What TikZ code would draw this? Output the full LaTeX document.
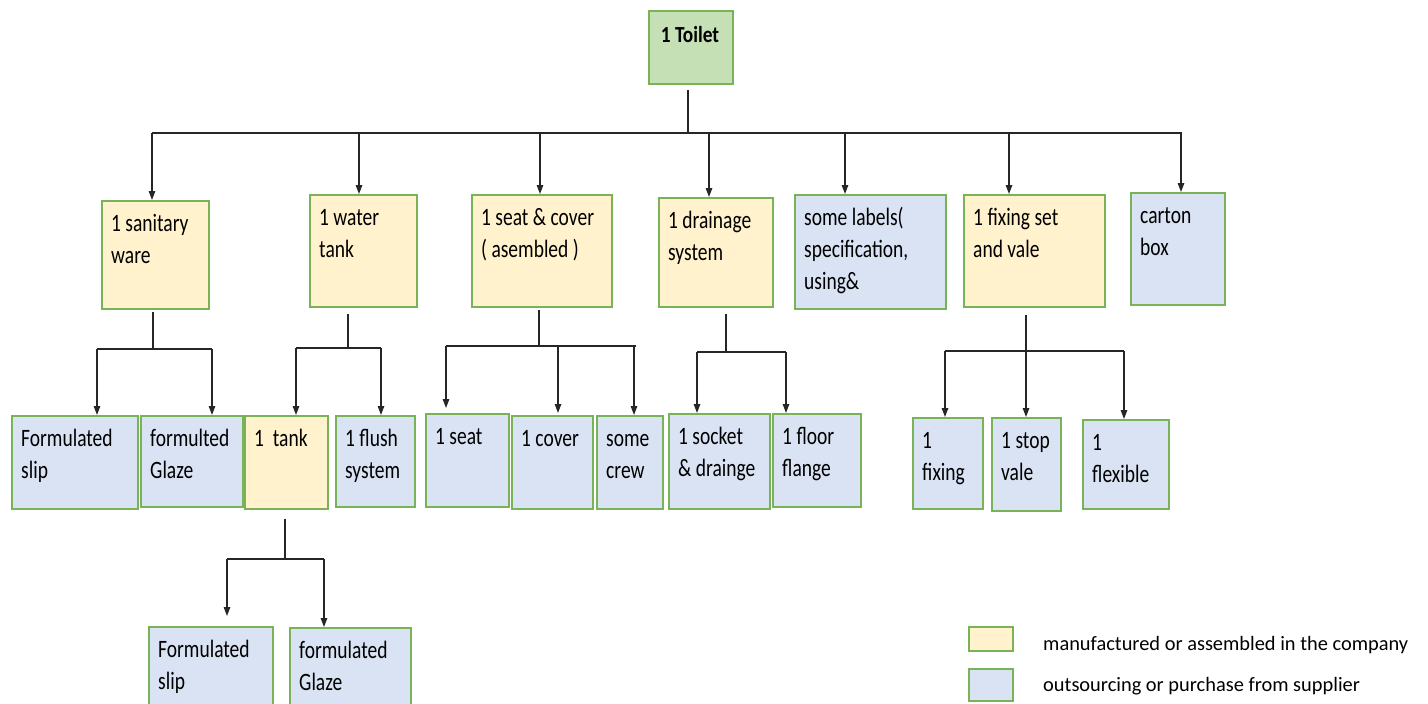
\documentclass[tikz,border=0pt]{standalone}
\usepackage{fontspec}
\setmainfont{Carlito}
\newfontfamily\boxfont{Carlito}[FakeStretch=0.78]
\newfontfamily\headfont{Carlito}[FakeStretch=0.84]
\usetikzlibrary{arrows.meta}

\definecolor{made}{HTML}{FFF2CC}
\definecolor{bought}{HTML}{DAE3F3}
\definecolor{topgreen}{HTML}{C5E0B4}
\definecolor{edge}{HTML}{78B457}

\tikzset{
  part/.style={draw=edge, line width=1.6pt, rectangle, inner sep=0pt, anchor=north west},
  madebox/.style={part, fill=made},
  boughtbox/.style={part, fill=bought},
  itemtext/.style={inner sep=0pt, anchor=base west, text=black,
    font=\boxfont\fontsize{25}{32}\selectfont},
  legendtext/.style={inner sep=0pt, anchor=base west, text=black,
    font=\fontsize{20.4}{24}\selectfont},
  link/.style={line width=1.3pt, draw=black!85},
  feed/.style={link, -{Triangle[length=9pt,width=6.5pt]}},
}

% name, style, left, top, right, bottom, text lines
\newcommand\partnode[7]{%
  \node[#2, minimum width={#5pt-#3pt}, minimum height={#6pt-#4pt}] (#1) at (#3,#4) {};
  \node[itemtext] (#1-txt) at ([shift={(10,31.5)}]#1.north west) {\parbox[t]{200pt}{#7}};
}

\begin{document}
\begin{tikzpicture}[x=1pt,y=-1pt]
\useasboundingbox[fill=white] (0,0) rectangle (1428,704);

% ---- product ----
\node[part, fill=topgreen, minimum width=84pt, minimum height=73pt] (toilet) at (648,10) {};
\node[inner sep=0pt, anchor=base, text=black,
      font=\headfont\bfseries\fontsize{23}{28}\selectfont] (toilet-txt) at (690,42.5) {1 Toilet};

% ---- first level ----
\partnode{san}{madebox}{101}{200}{208}{308}{1 sanitary\\ware}
\partnode{wat}{madebox}{309}{194}{416}{306}{1 water\\tank}
\partnode{seat}{madebox}{471}{194}{611}{306}{1 seat \& cover\\( asembled )}
\partnode{drn}{madebox}{658}{197}{772}{306}{1 drainage\\system}
\partnode{lab}{boughtbox}{794}{194}{945}{308}{some labels(\\specification,\\using\&}
\partnode{fix}{madebox}{963}{194}{1104}{306}{1 fixing set\\and vale}
\partnode{carton}{boughtbox}{1130}{192}{1224}{304}{carton\\box}

% ---- second level ----
\partnode{slipA}{boughtbox}{11}{415}{137}{508}{Formulated\\slip}
\partnode{glazeA}{boughtbox}{140}{415}{242}{506}{formulted\\Glaze}
\partnode{tank}{madebox}{244}{415}{327}{508}{1\ \ tank}
\partnode{flush}{boughtbox}{335}{415}{414}{506}{1 flush\\system}
\partnode{seatp}{boughtbox}{425}{413}{508}{506}{1 seat}
\partnode{cover}{boughtbox}{511}{415}{592}{508}{1 cover}
\partnode{crew}{boughtbox}{596}{415}{662}{508}{some\\crew}
\partnode{sock}{boughtbox}{668}{413}{769}{508}{1 socket\\\& drainge}
\partnode{flange}{boughtbox}{772}{413}{860}{506}{1 floor\\flange}
\partnode{fxa}{boughtbox}{912}{417}{982}{508}{1\\fixing}
\partnode{stop}{boughtbox}{991}{417}{1060}{510}{1 stop\\vale}
\partnode{flex}{boughtbox}{1082}{419}{1168}{508}{1\\flexible}

% ---- third level ----
\partnode{slipB}{boughtbox}{148}{626}{272}{724}{Formulated\\slip}
\partnode{glazeB}{boughtbox}{289}{627}{410}{724}{formulated\\Glaze}

% ---- connectors: product to first level ----
\coordinate (hub) at (688,133);
\coordinate (a1) at (152,133);
\coordinate (a2) at (359,133);
\coordinate (a3) at (540,133);
\coordinate (a4) at (709,133);
\coordinate (a5) at (845,133);
\coordinate (a6) at (1009,133);
\coordinate (a7) at (1181,133);
\draw[link] ([yshift=-5pt]toilet.south -| hub) -- (hub);
\draw[link] (a1) -- ([xshift=1pt]a7);
\draw[feed] (a1) -- (a1 |- san.north);
\draw[feed] (a2) -- (a2 |- wat.north);
\draw[feed] (a3) -- (a3 |- seat.north);
\draw[feed] (a4) -- (a4 |- drn.north);
\draw[feed] (a5) -- (a5 |- lab.north);
\draw[feed] (a6) -- (a6 |- fix.north);
\draw[feed] (a7) -- (a7 |- carton.north);

% ---- sanitary ware ----
\coordinate (sanhub) at (153,349);
\coordinate (san1) at (97,349);
\coordinate (san2) at (212,349);
\draw[link] ([yshift=-2pt]san.south -| sanhub) -- (sanhub);
\draw[link] (san1) -- (san2);
\draw[feed] (san1) -- (san1 |- slipA.north);
\draw[feed] (san2) -- (san2 |- glazeA.north);

% ---- water tank ----
\coordinate (wathub) at (348,348);
\coordinate (wat1) at (296,348);
\coordinate (wat2) at (381,348);
\draw[link] ([yshift=-6pt]wat.south -| wathub) -- (wathub);
\draw[link] (wat1) -- (wat2);
\draw[feed] (wat1) -- (wat1 |- tank.north);
\draw[feed] (wat2) -- (wat2 |- flush.north);

% ---- seat and cover ----
\coordinate (seathub) at (539,346);
\coordinate (seat1) at (446,346);
\coordinate (seat2) at (558,346);
\coordinate (seat3) at (634,346);
\draw[link] ([yshift=-2pt]seat.south -| seathub) -- (seathub);
\draw[link] (seat1) -- ([xshift=2pt]seat3);
\draw[feed, shorten >=5pt] (seat1) -- (seat1 |- seatp.north);
\draw[feed, shorten >=2pt] (seat2) -- (seat2 |- cover.north);
\draw[feed] (seat3) -- (seat3 |- crew.north);

% ---- drainage system ----
\coordinate (drnhub) at (726,352);
\coordinate (drn1) at (697,352);
\coordinate (drn2) at (786,352);
\draw[link] ([yshift=-6pt]drn.south -| drnhub) -- (drnhub);
\draw[link] (drn1) -- (drn2);
\draw[feed] (drn1) -- (drn1 |- sock.north);
\draw[feed] (drn2) -- (drn2 |- flange.north);

% ---- fixing set ----
\coordinate (fixhub) at (1026,351);
\coordinate (fix1) at (945,351);
\coordinate (fix2) at (1026,351);
\coordinate (fix3) at (1124,351);
\draw[link] ([yshift=-7pt]fix.south -| fixhub) -- (fixhub);
\draw[link] (fix1) -- (fix3);
\draw[feed] (fix1) -- (fix1 |- fxa.north);
\draw[feed] (fix2) -- (fix2 |- stop.north);
\draw[feed] (fix3) -- (fix3 |- flex.north);

% ---- tank ----
\coordinate (tankhub) at (285,559);
\coordinate (tank1) at (227,559);
\coordinate (tank2) at (324,559);
\draw[link] ([yshift=-9pt]tank.south -| tankhub) -- (tankhub);
\draw[link] (tank1) -- (tank2);
\draw[feed, shorten >=10pt] (tank1) -- (tank1 |- slipB.north);
\draw[feed] (tank2) -- (tank2 |- glazeB.north);

% ---- legend ----
\node[madebox, minimum width=44pt, minimum height=24pt] (key-made) at (968,626) {};
\node[boughtbox, minimum width=44pt, minimum height=32pt] (key-bought) at (968,668) {};
\node[legendtext] (key-made-txt) at (1043,650) {manufactured or assembled in the company};
\node[legendtext] (key-bought-txt) at (1043,691) {outsourcing or purchase from supplier};
\end{tikzpicture}
\end{document}
